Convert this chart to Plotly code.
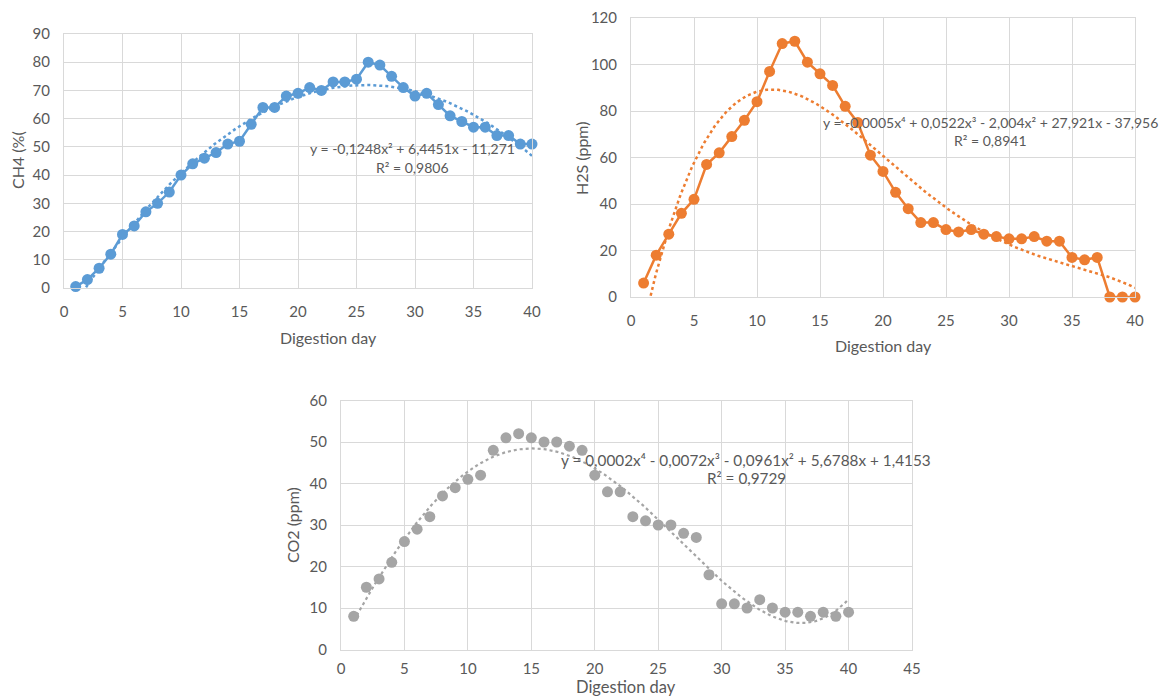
import numpy as np
import plotly.graph_objects as go

days = list(range(1, 41))
ch4 = [0.5, 3, 7, 12, 19, 22, 27, 30, 34, 40, 44, 46, 48, 51, 52, 58, 64, 64, 68, 69,
       71, 70, 73, 73, 74, 80, 79, 75, 71, 68, 69, 65, 61, 59, 57, 57, 54, 54, 51, 51]
h2s = [6, 18, 27, 36, 42, 57, 62, 69, 76, 84, 97, 109, 110, 101, 96, 91, 82, 75, 61, 54,
       45, 38, 32, 32, 29, 28, 29, 27, 26, 25, 25, 26, 24, 24, 17, 16, 17, 0, 0, 0]
co2 = [8, 15, 17, 21, 26, 29, 32, 37, 39, 41, 42, 48, 51, 52, 51, 50, 50, 49, 48, 42,
       38, 38, 32, 31, 30, 30, 28, 27, 18, 11, 11, 10, 12, 10, 9, 9, 8, 9, 8, 9]

eq_ch4 = ["y = -0,1248x² + 6,4451x - 11,271", "R² = 0,9806"]
eq_h2s = ["y = -0,0005x⁴ + 0,0522x³ - 2,004x² + 27,921x - 37,956", "R² = 0,8941"]
eq_co2 = ["y = 0,0002x⁴ - 0,0072x³ - 0,0961x² + 5,6788x + 1,4153", "R² = 0,9729"]

BLUE = "#5B9BD5"
ORANGE = "#ED7D31"
GRAY = "#A5A5A5"
TXT = "#595959"
GRID = "#D9D9D9"
FONT = "Lato"

W, H = 1159, 697

def px_x(p):
    return p / W

def px_y(p):
    return 1 - p / H

xs = np.linspace(1, 40, 300)
fit_ch4 = np.polyval(np.polyfit(days, ch4, 2), xs)
fit_h2s = np.polyval(np.polyfit(days, h2s, 4), xs)
fit_co2 = np.polyval(np.polyfit(days, co2, 4), xs)

fig = go.Figure()

# CH4
fig.add_trace(go.Scatter(x=xs, y=fit_ch4, mode="lines", line=dict(color=BLUE, width=2.5, dash="dot"),
                         xaxis="x", yaxis="y", showlegend=False, hoverinfo="skip"))
fig.add_trace(go.Scatter(x=days, y=ch4, mode="lines+markers", line=dict(color=BLUE, width=2.5),
                         marker=dict(color=BLUE, size=11), cliponaxis=False,
                         xaxis="x", yaxis="y", showlegend=False))
# H2S
fig.add_trace(go.Scatter(x=xs, y=fit_h2s, mode="lines", line=dict(color=ORANGE, width=2.5, dash="dot"),
                         xaxis="x2", yaxis="y2", showlegend=False, hoverinfo="skip"))
fig.add_trace(go.Scatter(x=days, y=h2s, mode="lines+markers", line=dict(color=ORANGE, width=2.5),
                         marker=dict(color=ORANGE, size=11), cliponaxis=False,
                         xaxis="x2", yaxis="y2", showlegend=False))
# CO2
fig.add_trace(go.Scatter(x=xs, y=fit_co2, mode="lines", line=dict(color=GRAY, width=2.2, dash="dot"),
                         xaxis="x3", yaxis="y3", showlegend=False, hoverinfo="skip"))
fig.add_trace(go.Scatter(x=days, y=co2, mode="markers",
                         marker=dict(color=GRAY, size=11), cliponaxis=False,
                         xaxis="x3", yaxis="y3", showlegend=False))

def xax(dom, rng, anchor, standoff=10):
    return dict(domain=dom, range=rng, anchor=anchor, dtick=5, tick0=0, showgrid=True,
                gridcolor=GRID, gridwidth=1, zeroline=False, showline=True, linecolor=GRID,
                linewidth=1, mirror=True, ticks="", ticklabelstandoff=standoff, automargin=False,
                tickfont=dict(family=FONT, size=15, color=TXT), fixedrange=True)

def yax(dom, rng, dt, anchor):
    return dict(domain=dom, range=rng, anchor=anchor, dtick=dt, tick0=0, showgrid=True,
                gridcolor=GRID, gridwidth=1, zeroline=False, showline=True, linecolor=GRID,
                linewidth=1, mirror=True, ticks="", ticklabelstandoff=10, automargin=False,
                tickfont=dict(family=FONT, size=15, color=TXT), fixedrange=True)

fig.update_layout(
    width=W, height=H,
    margin=dict(l=0, r=0, t=0, b=0, pad=0),
    paper_bgcolor="white", plot_bgcolor="white",
    font=dict(family=FONT, color=TXT),
    xaxis=xax([px_x(64), px_x(532)], [0, 40], "y"),
    yaxis=yax([px_y(288), px_y(34)], [0, 90], 10, "x"),
    xaxis2=xax([px_x(631), px_x(1135)], [0, 40], "y2"),
    yaxis2=yax([px_y(297), px_y(18)], [0, 120], 20, "x2"),
    xaxis3=xax([px_x(341), px_x(912)], [0, 45], "y3", standoff=5),
    yaxis3=yax([px_y(649.5), px_y(400.5)], [0, 60], 10, "x3"),
)

def ann(x, y, text, size=16, angle=0):
    fig.add_annotation(x=px_x(x), y=px_y(y), xref="paper", yref="paper", text=text,
                       showarrow=False, textangle=angle, xanchor="center", yanchor="middle",
                       font=dict(family=FONT, size=size, color=TXT))

# axis titles
ann(328, 338, "Digestion day")
ann(18, 160, "CH4 (%(", angle=-90)
ann(883, 345, "Digestion day")
ann(581, 158, "H2S (ppm)", angle=-90)
ann(626, 687, "Digestion day", size=16.5)
ann(292, 525, "CO2 (ppm)", angle=-90)

# equations
ann(412, 149, eq_ch4[0], size=14)
ann(412, 168, eq_ch4[1], size=14)
ann(990, 122, eq_h2s[0], size=14)
ann(990, 141, eq_h2s[1], size=14)
ann(746, 460, eq_co2[0], size=15.3)
ann(746, 478, eq_co2[1], size=15.3)

fig.write_html("out.html", config={"displayModeBar": False},
               post_script="document.body.style.margin='0';document.body.style.overflow='hidden';")
